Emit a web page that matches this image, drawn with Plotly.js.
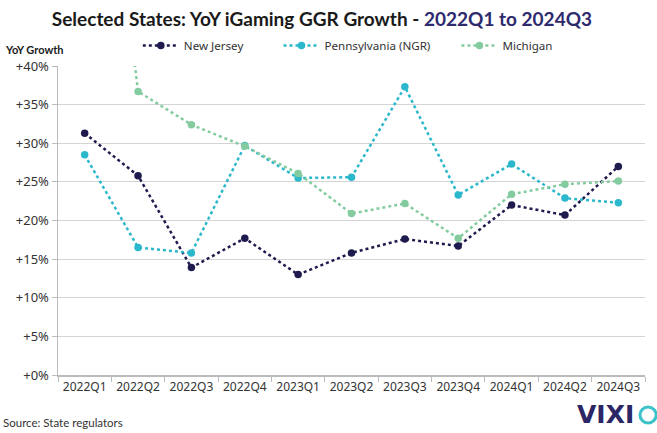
<!DOCTYPE html>
<html>
<head>
<meta charset="utf-8">
<script src="https://cdn.plot.ly/plotly-3.0.1.min.js"></script>
<style>
html,body{margin:0;padding:0;background:#fff;}
#chart{width:657px;height:433px;}
</style>
</head>
<body>
<div id="chart"></div>
<script>
const quarters = ["2022Q1","2022Q2","2022Q3","2022Q4","2023Q1","2023Q2","2023Q3","2023Q4","2024Q1","2024Q2","2024Q3"];
const newJersey = [31.3, 25.8, 13.9, 17.7, 13.0, 15.8, 17.6, 16.7, 22.0, 20.7, 27.0];
const pennsylvania = [28.5, 16.5, 15.8, 29.7, 25.5, 25.6, 37.3, 23.3, 27.3, 22.9, 22.3];
const michigan = [95.0, 36.7, 32.4, 29.6, 26.1, 20.9, 22.2, 17.7, 23.4, 24.7, 25.1];
const yTicks = [0, 5, 10, 15, 20, 25, 30, 35, 40];
const yTickText = yTicks.map(v => "+" + v + "%");

const navy = "#1f1b4e", cyan = "#2bb8cc", green = "#84cc9f";

function series(name, y, color, padCount) {
  return {
    type: "scatter", mode: "lines+markers", name: name + "\u00a0".repeat(padCount),
    x: quarters, y: y,
    line: {color: color, width: 2.5, dash: "dot"},
    marker: {color: color, size: 7.5},
    cliponaxis: true
  };
}

const data = [
  series("New Jersey", newJersey, navy, 10),
  series("Pennsylvania (NGR)", pennsylvania, cyan, 7),
  series("Michigan", michigan, green, 0)
];

const layout = {
  width: 657, height: 433,
  margin: {l: 58, r: 12, t: 66, b: 58},
  paper_bgcolor: "#fff", plot_bgcolor: "#fff",
  font: {family: "Noto Sans, sans-serif", size: 12, color: "#333"},
  title: {
    text: "<b>Selected States: YoY iGaming GGR Growth - <span style='color:#2e2a6e'>2022Q1 to 2024Q3</span></b>",
    font: {family: "Lato, sans-serif", size: 19, color: "#1a1a1a"},
    x: 0.49, xanchor: "center", y: 0.955, yanchor: "middle"
  },
  showlegend: true,
  legend: {
    orientation: "h", x: 0.136, xanchor: "left", y: 1.066, yanchor: "middle",
    font: {family: "Noto Sans, sans-serif", size: 11.6, color: "#333"},
    itemwidth: 36, tracegroupgap: 0
  },
  xaxis: {
    type: "category", tickson: "boundaries",
    ticks: "outside", ticklen: 5, tickcolor: "#bbb",
    showline: true, linecolor: "#bbb", linewidth: 1.5,
    showgrid: false, zeroline: false,
    tickfont: {family: "Noto Sans, sans-serif", size: 12, color: "#333"},
    range: [-0.5, 10.5]
  },
  yaxis: {
    range: [0, 40], tickmode: "array", tickvals: yTicks, ticktext: yTickText,
    ticks: "outside", ticklen: 5, tickcolor: "#bbb",
    showline: true, linecolor: "#bbb", linewidth: 1.5,
    showgrid: true, gridcolor: "#d4d4d4", gridwidth: 1,
    zeroline: false,
    tickfont: {family: "Noto Sans, sans-serif", size: 13, color: "#333"}
  },
  annotations: [
    {text: "<b>YoY Growth</b>", xref: "paper", yref: "paper", x: -0.093, y: 1.052,
     xanchor: "left", yanchor: "middle", showarrow: false,
     font: {family: "Lato, sans-serif", size: 11, color: "#1a1a1a"}},
    {text: "Source: State regulators", xref: "paper", yref: "paper", x: -0.097, y: -0.155,
     xanchor: "left", yanchor: "middle", showarrow: false,
     font: {family: "Lato, sans-serif", size: 11.5, color: "#333"}},
    {text: "<b>VIXI</b>", xref: "paper", yref: "paper", x: 0.985, y: -0.128,
     xanchor: "right", yanchor: "middle", showarrow: false,
     font: {family: "DejaVu Sans, sans-serif", size: 25, color: "#2b2766"}}
  ],
  shapes: [
    {type: "circle", xref: "paper", yref: "paper",
     x0: 0.9915, x1: 1.019, y0: -0.155, y1: -0.1036,
     line: {color: "#3cc2c9", width: 3}, fillcolor: "rgba(0,0,0,0)"}
  ]
};

Plotly.newPlot("chart", data, layout, {displayModeBar: false, staticPlot: true});
</script>
</body>
</html>
